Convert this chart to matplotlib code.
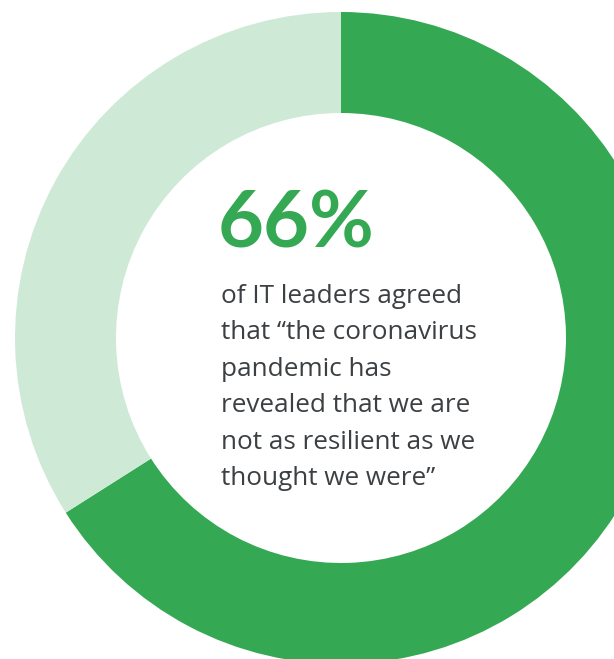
import matplotlib
matplotlib.use("Agg")
import matplotlib.pyplot as plt

# Data
labels = ["Agreed", "Did not agree"]
values = [66, 34]
colors = ["#34A853", "#CEEAD6"]
headline = "66%"
body_lines = [
    "of IT leaders agreed",
    "that \u201cthe coronavirus",
    "pandemic has",
    "revealed that we are",
    "not as resilient as we",
    "thought we were\u201d",
]

W, H = 614, 659
fig = plt.figure(figsize=(W / 100, H / 100), dpi=100)
ax = fig.add_axes([0, 0, 1, 1])
ax.set_xlim(0, W)
ax.set_ylim(0, H)
ax.set_aspect("equal")
ax.axis("off")

cx, cy = 341, H - 338
r_out, r_in = 326, 225
ax.pie(values, colors=colors, startangle=90, counterclock=False,
       radius=r_out, center=(cx, cy),
       wedgeprops=dict(width=r_out - r_in, linewidth=0), frame=True)
ax.set_xlim(0, W)
ax.set_ylim(0, H)
ax.axis("off")

ax.text(218, H - 247, headline, fontsize=57, fontweight="bold",
        color="#34A853", family="Lato", va="baseline", ha="left")

base0 = 303
step = 36.4
for i, line in enumerate(body_lines):
    ax.text(221, H - (base0 + i * step), line, fontsize=18.8,
            color="#3C4043", family="Open Sans", va="baseline", ha="left")

fig.savefig("out.png", dpi=100)
